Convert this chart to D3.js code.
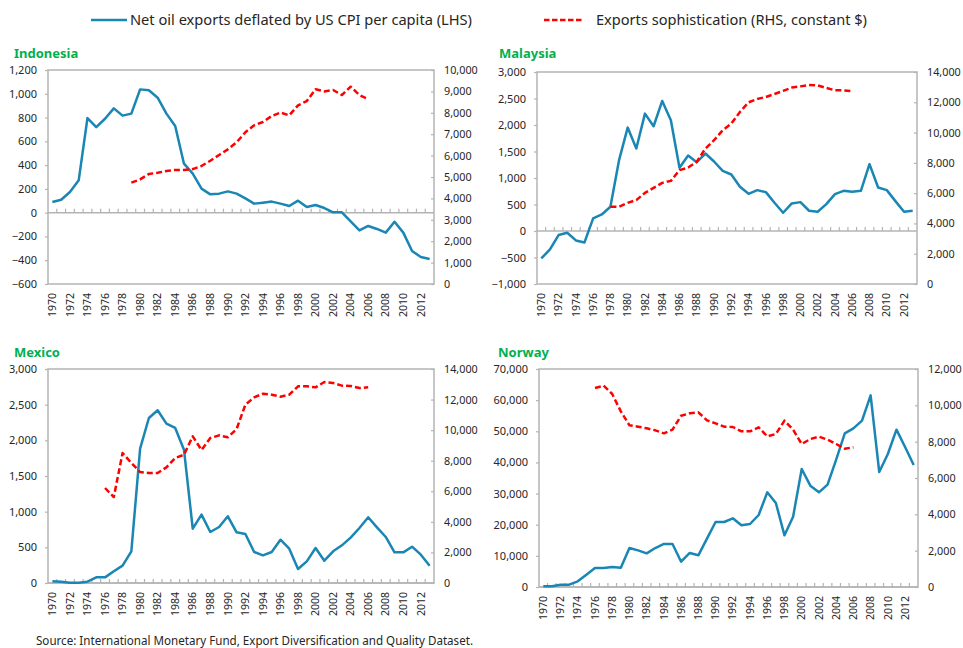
<!DOCTYPE html>
<html>
<head>
<meta charset="utf-8">
<script src="https://cdn.jsdelivr.net/npm/d3@7"></script>
<style>
  html, body { margin: 0; padding: 0; background: #fff; }
  svg { display: block; font-family: "Noto Sans", "Open Sans", sans-serif; }
</style>
</head>
<body>
<svg id="chart" width="963" height="648"></svg>
<script>
// ---------- DATA ----------
const years = [1970,1971,1972,1973,1974,1975,1976,1977,1978,1979,
               1980,1981,1982,1983,1984,1985,1986,1987,1988,1989,
               1990,1991,1992,1993,1994,1995,1996,1997,1998,1999,
               2000,2001,2002,2003,2004,2005,2006,2007,2008,2009,
               2010,2011,2012,2013];

const countries = ["Indonesia", "Malaysia", "Mexico", "Norway"];

const legendLabels = ["Net oil exports deflated by US CPI per capita (LHS)",
                      "Exports sophistication (RHS, constant $)"];
const sourceText = "Source: International Monetary Fund, Export Diversification and Quality Dataset.";

// Net oil exports deflated by US CPI per capita (LHS), 1970-2013
const indonesiaOil = [90,109,174,272,796,720,790,877,816,833,
                      1037,1029,967,833,729,412,328,202,154,160,
                      179,160,120,76,84,93,76,56,101,48,
                      64,39,3,3,-73,-149,-112,-137,-168,-76,
                      -168,-322,-373,-390];
const malaysiaOil = [-518,-347,-77,-33,-178,-216,237,312,457,1336,
                     1951,1556,2215,1976,2454,2090,1192,1424,1299,1462,
                     1311,1135,1066,834,702,771,733,532,344,520,
                     545,382,363,507,695,758,739,758,1261,821,
                     771,564,363,382];
const mexicoOil = [23,19,5,5,19,79,79,164,243,444,
                   1883,2313,2421,2234,2173,1869,762,958,715,785,
                   935,710,687,435,388,435,607,481,196,304,
                   491,313,444,528,636,771,921,780,645,430,
                   430,509,397,243];
const norwayOil = [214,214,749,749,1820,3960,6100,6100,6420,6210,
                   12520,11770,10810,12520,13810,13810,8130,10920,10170,15520,
                   20870,20870,22050,19800,20230,23120,30400,26970,16590,22580,
                   37890,32540,30400,32860,40890,49340,50950,53410,61540,36930,
                   42710,50520,44950,39170];

// Exports sophistication (RHS, constant $), 1970-2013 (null = no data)
const indonesiaSoph = [null,null,null,null,null,null,null,null,null,4735,
                       4890,5140,5200,5280,5330,5330,5370,5515,5760,6030,
                       6290,6620,7090,7415,7570,7850,8010,7880,8350,8550,
                       9100,9000,9065,8830,9220,8830,8630,null,null,null,
                       null,null,null,null];
const malaysiaSoph = [null,null,null,null,null,null,null,null,5100,5100,
                      5360,5540,6020,6350,6680,6810,7520,7690,8070,8945,
                      9495,10150,10590,11360,12000,12220,12350,12550,12750,12970,
                      13050,13140,13120,12945,12790,12790,12725,null,null,null,
                      null,null,null,null];
const mexicoSoph = [null,null,null,null,null,null,6215,5626,8504,7850,
                    7261,7196,7196,7567,8177,8395,9594,8700,9485,9660,
                    9529,10074,11666,12146,12386,12320,12189,12320,12865,12865,
                    12800,13149,13083,12909,12887,12756,12800,null,null,null,
                    null,null,null,null];
const norwaySoph = [null,null,null,null,null,null,10954,11083,10624,9670,
                    8899,8826,8734,8624,8459,8661,9431,9560,9615,9174,
                    9009,8826,8807,8569,8569,8789,8294,8422,9156,8661,
                    7872,8147,8275,8110,7872,7615,7688,null,null,null,
                    null,null,null,null];

// Axis tick values
const indonesiaLeftTicks = [-600,-400,-200,0,200,400,600,800,1000,1200];
const indonesiaRightTicks = [0,1000,2000,3000,4000,5000,6000,7000,8000,9000,10000];
const malaysiaLeftTicks = [-1000,-500,0,500,1000,1500,2000,2500,3000];
const malaysiaRightTicks = [0,2000,4000,6000,8000,10000,12000,14000];
const mexicoLeftTicks = [0,500,1000,1500,2000,2500,3000];
const mexicoRightTicks = [0,2000,4000,6000,8000,10000,12000,14000];
const norwayLeftTicks = [0,10000,20000,30000,40000,50000,60000,70000];
const norwayRightTicks = [0,2000,4000,6000,8000,10000,12000];

// ---------- STYLE / LAYOUT ----------
const BLUE = "#1a86b4";
const RED = "#ff0000";
const GREEN = "#00b050";
const AXIS = "#b4b4b4";
const TXT = "#262626";

const panels = [
  {name: countries[0], oil: indonesiaOil, soph: indonesiaSoph, lt: indonesiaLeftTicks, rt: indonesiaRightTicks,
   x0: 48, x1: 434, y0: 70, y1: 284, tx: 14, ty: 58},
  {name: countries[1], oil: malaysiaOil, soph: malaysiaSoph, lt: malaysiaLeftTicks, rt: malaysiaRightTicks,
   x0: 537, x1: 917, y0: 72, y1: 284, tx: 499, ty: 58},
  {name: countries[2], oil: mexicoOil, soph: mexicoSoph, lt: mexicoLeftTicks, rt: mexicoRightTicks,
   x0: 48, x1: 434, y0: 369, y1: 583, tx: 14, ty: 357},
  {name: countries[3], oil: norwayOil, soph: norwaySoph, lt: norwayLeftTicks, rt: norwayRightTicks,
   x0: 539, x1: 918, y0: 369, y1: 587, tx: 498, ty: 357}
];

const svg = d3.select("#chart");
const fmt = d3.format(",");

// ---------- LEGEND ----------
const leg = svg.append("g");
leg.append("line").attr("x1", 91).attr("x2", 127).attr("y1", 20).attr("y2", 20)
  .attr("stroke", BLUE).attr("stroke-width", 2.5);
leg.append("text").attr("x", 130).attr("y", 25).attr("font-size", 13.5).attr("fill", TXT)
  .attr("textLength", 342).attr("lengthAdjust", "spacingAndGlyphs")
  .text(legendLabels[0]);
leg.append("line").attr("x1", 544).attr("x2", 583).attr("y1", 20).attr("y2", 20)
  .attr("stroke", RED).attr("stroke-width", 2.5).attr("stroke-dasharray", "5.5,2.5");
leg.append("text").attr("x", 596).attr("y", 25).attr("font-size", 13.5).attr("fill", TXT)
  .attr("textLength", 271).attr("lengthAdjust", "spacingAndGlyphs")
  .text(legendLabels[1]);

// ---------- PANELS ----------
panels.forEach(p => {
  const g = svg.append("g");
  const x = d3.scaleBand().domain(years).range([p.x0, p.x1]).paddingInner(0).paddingOuter(0);
  const yL = d3.scaleLinear().domain(d3.extent(p.lt)).range([p.y1, p.y0]);
  const yR = d3.scaleLinear().domain(d3.extent(p.rt)).range([p.y1, p.y0]);
  const cx = d => x(d) + x.bandwidth() / 2;

  // title
  g.append("text").attr("x", p.tx).attr("y", p.ty).attr("font-size", 13).attr("font-weight", "bold")
    .attr("fill", GREEN).text(p.name);

  // plot border
  g.append("rect").attr("x", p.x0).attr("y", p.y0).attr("width", p.x1 - p.x0).attr("height", p.y1 - p.y0)
    .attr("fill", "none").attr("stroke", AXIS).attr("stroke-width", 1.5);

  // left axis
  const axL = d3.axisLeft(yL).tickValues(p.lt).tickFormat(fmt).tickSize(3).tickPadding(8);
  const gL = g.append("g").attr("transform", `translate(${p.x0},0)`).call(axL);
  gL.select(".domain").remove();
  gL.selectAll(".tick line").attr("stroke", AXIS).attr("stroke-width", 1.2);
  gL.selectAll(".tick text").attr("font-size", 11).attr("fill", TXT).attr("font-family", "Noto Sans");

  // right axis
  const axR = d3.axisRight(yR).tickValues(p.rt).tickFormat(fmt).tickSize(-3).tickPadding(10);
  const gR = g.append("g").attr("transform", `translate(${p.x1},0)`).call(axR);
  gR.select(".domain").remove();
  gR.selectAll(".tick line").attr("stroke", AXIS).attr("stroke-width", 1.2);
  gR.selectAll(".tick text").attr("font-size", 10.8).attr("fill", TXT).attr("font-family", "Noto Sans")
    .attr("x", 10);

  // category axis at zero
  const y0px = yL(0);
  g.append("line").attr("x1", p.x0).attr("x2", p.x1).attr("y1", y0px).attr("y2", y0px)
    .attr("stroke", AXIS).attr("stroke-width", 1.5);
  g.selectAll(".xtick").data(years.slice(1)).join("line").attr("class", "xtick")
    .attr("x1", d => x(d)).attr("x2", d => x(d))
    .attr("y1", y0px).attr("y2", y0px - 4)
    .attr("stroke", AXIS).attr("stroke-width", 1.2);

  // year labels at bottom
  g.selectAll(".ylab").data(years.filter((d, i) => i % 2 === 0)).join("text").attr("class", "ylab")
    .attr("transform", d => `translate(${cx(d)},${p.y1 + 9}) rotate(-90)`)
    .attr("text-anchor", "end").attr("dy", "0.35em")
    .attr("font-size", 10.5).attr("fill", TXT)
    .text(d => d);

  // oil line (LHS)
  const lineL = d3.line().x((d, i) => cx(years[i])).y(d => yL(d));
  g.append("path").datum(p.oil).attr("d", lineL)
    .attr("fill", "none").attr("stroke", BLUE).attr("stroke-width", 2.5)
    .attr("stroke-linejoin", "round");

  // sophistication line (RHS)
  const lineR = d3.line().defined(d => d !== null).x((d, i) => cx(years[i])).y(d => yR(d));
  g.append("path").datum(p.soph).attr("d", lineR)
    .attr("fill", "none").attr("stroke", RED).attr("stroke-width", 2.5)
    .attr("stroke-dasharray", "6,3").attr("stroke-linejoin", "round");
});

// ---------- SOURCE ----------
svg.append("text").attr("x", 36).attr("y", 645).attr("font-size", 12.5).attr("fill", TXT)
  .attr("textLength", 437).attr("lengthAdjust", "spacingAndGlyphs")
  .text(sourceText);
</script>
</body>
</html>
